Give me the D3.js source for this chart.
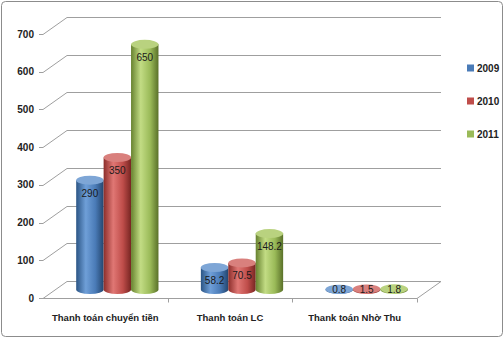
<!DOCTYPE html>
<html>
<head>
<meta charset="utf-8">
<script src="https://cdn.jsdelivr.net/npm/d3@7"></script>
<style>
  body { margin: 0; background: #fff; }
  svg { display: block; font-family: "Liberation Sans", Arial, sans-serif; }
</style>
</head>
<body>
<script>
// chart data
var categories = ["Thanh toán chuyển tiền", "Thanh toán LC", "Thank toán Nhờ Thu"];
var years = ["2009", "2010", "2011"];
var values2009 = [290, 58.2, 0.8];
var values2010 = [350, 70.5, 1.5];
var values2011 = [650, 148.2, 1.8];
var yTicks = [0, 100, 200, 300, 400, 500, 600, 700];

var series = [values2009, values2010, values2011];
var colors = {
  "2009": ["#2b5585", "#6f9fd8", "#4a7bb7", "#24466f", "#7ea6d6"],
  "2010": ["#8c2e2b", "#e07774", "#bf4d4a", "#772522", "#d9807d"],
  "2011": ["#67822f", "#c2dc84", "#9aba58", "#5a7129", "#b9d27f"]
};

var width = 504, height = 338;
var dx = 24, dy = -17;           // depth of the 3d box
var plotLeft = 43, plotRight = 417, plotBottom = 298, plotTop = 34;

var svg = d3.select("body").append("svg")
    .attr("width", width)
    .attr("height", height);

// outer frame
svg.append("rect")
    .attr("x", 1.5).attr("y", 1.5)
    .attr("width", width - 3).attr("height", height - 3)
    .attr("rx", 4)
    .attr("fill", "#fff")
    .attr("stroke", "#8c8c8c");

var y = d3.scaleLinear().domain([0, 700]).range([plotBottom, plotTop]);
var x0 = d3.scaleBand().domain(categories).range([plotLeft, plotRight]);
var groupW = x0.bandwidth() * 0.66;
var x1 = d3.scaleBand().domain(years).range([0, groupW]);

// gradients for the cylinders
var defs = svg.append("defs");
years.forEach(function(yr) {
  var c = colors[yr];
  var g = defs.append("linearGradient").attr("id", "g" + yr)
      .attr("x1", "0%").attr("x2", "100%");
  g.append("stop").attr("offset", "0%").attr("stop-color", c[0]);
  g.append("stop").attr("offset", "35%").attr("stop-color", c[1]);
  g.append("stop").attr("offset", "70%").attr("stop-color", c[2]);
  g.append("stop").attr("offset", "100%").attr("stop-color", c[3]);
});

// gridlines: back wall + left side diagonals
var grid = svg.append("g").attr("stroke", "#9f9f9f").attr("stroke-width", 1).attr("fill", "none");
yTicks.forEach(function(t) {
  var yy = Math.round(y(t)) + 0.5;
  grid.append("path").attr("d", "M" + plotLeft + "," + yy + "L" + (plotLeft + dx) + "," + (yy + dy) + "L" + (plotRight + dx) + "," + (yy + dy));
});
// floor
var fy = Math.round(y(0)) + 0.5;
grid.append("path").attr("d", "M" + plotLeft + "," + fy + "L" + plotRight + "," + fy + "L" + (plotRight + dx) + "," + (fy + dy));

// ticks
yTicks.forEach(function(t) {
  grid.append("line").attr("x1", plotLeft - 4).attr("x2", plotLeft)
      .attr("y1", Math.round(y(t)) + 0.5).attr("y2", Math.round(y(t)) + 0.5);
});
x0.domain().forEach(function(c, i) {
  var xx = Math.round(x0(c) + x0.bandwidth()) + 0.5;
  grid.append("line").attr("x1", xx).attr("x2", xx).attr("y1", fy).attr("y2", fy + 4);
});

// y labels
svg.append("g").selectAll("text").data(yTicks).enter().append("text")
    .attr("x", 34).attr("y", function(d) { return y(d); })
    .attr("dy", "0.35em")
    .attr("text-anchor", "end")
    .attr("font-size", 10).attr("font-weight", "bold").attr("fill", "#222")
    .text(function(d) { return d; });

// category labels
svg.append("g").selectAll("text").data(categories).enter().append("text")
    .attr("x", function(d) { return x0(d) + x0.bandwidth() / 2; })
    .attr("y", 318)
    .attr("dy", "0.35em")
    .attr("text-anchor", "middle")
    .attr("font-size", 9.5).attr("font-weight", "bold").attr("fill", "#222")
    .text(function(d) { return d; });

// cylinders
var rx = x1.bandwidth() / 2, ry = 4.5;
var bars = [];
categories.forEach(function(c, i) {
  years.forEach(function(yr, j) {
    var cx = x0(c) + x0.bandwidth() / 2 - groupW / 2 + x1(yr) + rx + dx / 2;
    bars.push({ cat: c, year: yr, v: series[j][i], cx: cx,
                bot: y(0) + dy / 2, topY: y(series[j][i]) + dy / 2 });
  });
});

var cyl = svg.append("g").selectAll("g").data(bars).enter().append("g");
cyl.append("path")
    .attr("d", function(d) {
      return "M" + (d.cx - rx) + "," + d.topY +
        "L" + (d.cx - rx) + "," + d.bot +
        "A" + rx + "," + ry + " 0 0 0 " + (d.cx + rx) + "," + d.bot +
        "L" + (d.cx + rx) + "," + d.topY + "Z";
    })
    .attr("fill", function(d) { return "url(#g" + d.year + ")"; });
cyl.append("ellipse")
    .attr("cx", function(d) { return d.cx; })
    .attr("cy", function(d) { return d.topY; })
    .attr("rx", rx).attr("ry", ry)
    .attr("fill", function(d) { return colors[d.year][4]; });

// value labels
svg.append("g").selectAll("text").data(bars).enter().append("text")
    .attr("x", function(d) { return d.cx; })
    .attr("y", function(d) { return Math.min(d.topY + 13, d.bot); })
    .attr("dy", "0.35em")
    .attr("text-anchor", "middle")
    .attr("font-size", 10).attr("fill", "#1a1a1a")
    .text(function(d) { return d.v; });

// legend
var leg = svg.append("g").selectAll("g").data(years).enter().append("g")
    .attr("transform", function(d, i) { return "translate(467," + [68, 101, 134][i] + ")"; });
leg.append("rect").attr("x", 0).attr("y", -3.5).attr("width", 7).attr("height", 7)
    .attr("fill", function(d) { return colors[d][2]; });
leg.append("text").attr("x", 10).attr("dy", "0.35em")
    .attr("font-size", 10).attr("font-weight", "bold").attr("fill", "#222")
    .text(function(d) { return d; });
</script>
</body>
</html>
